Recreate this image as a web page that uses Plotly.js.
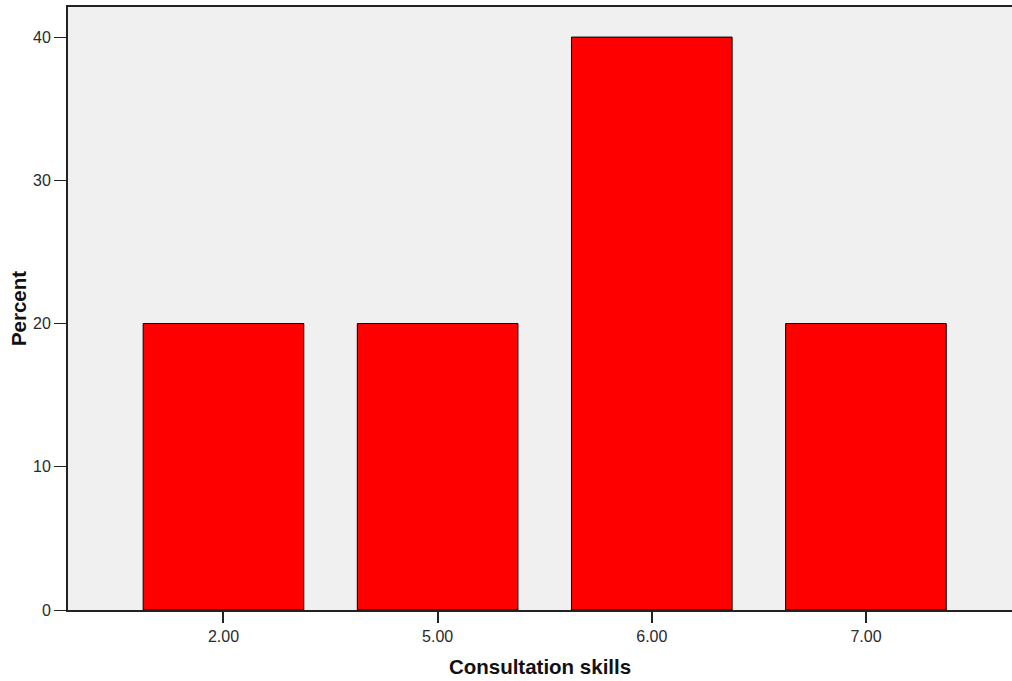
<!DOCTYPE html>
<html>
<head>
<meta charset="utf-8">
<script src="https://cdn.plot.ly/plotly-3.0.1.min.js"></script>
<style>html,body{margin:0;padding:0;background:#fff;}#chart{width:1012px;height:681px;}</style>
</head>
<body>
<div id="chart"></div>
<script>
const categories = ["2.00", "5.00", "6.00", "7.00"];
const percents = [20, 20, 40, 20];
const yTickVals = [0, 10, 20, 30, 40];

const tickFont = {family: "Liberation Sans Narrow, Arial Narrow, Liberation Sans, sans-serif", size: 16, color: "#2a2a2a"};
const titleFont = {family: "Liberation Sans, Arial, sans-serif", size: 20.5, color: "#111", weight: "bold"};

Plotly.newPlot("chart", [{
  type: "bar",
  x: [0, 1, 2, 3],
  y: percents,
  width: 0.75,
  marker: {color: "#ff0000", line: {color: "#000", width: 1}},
  hoverinfo: "skip"
}], {
  width: 1012, height: 681,
  margin: {l: 68, r: 0, t: 7, b: 71},
  paper_bgcolor: "#ffffff",
  plot_bgcolor: "#f0f0f0",
  showlegend: false,
  xaxis: {
    range: [-0.726, 3.682],
    tickvals: [0, 1, 2, 3],
    ticktext: categories,
    showgrid: false, zeroline: false,
    showline: true, linecolor: "#222", linewidth: 2, mirror: true,
    ticks: "outside", ticklen: 11, tickwidth: 2, tickcolor: "#222",
    tickfont: tickFont,
    title: {text: "Consultation skills", font: titleFont, standoff: 15}
  },
  yaxis: {
    range: [0, 42.1],
    tickvals: yTickVals,
    showgrid: false, zeroline: false,
    showline: true, linecolor: "#222", linewidth: 2,
    ticks: "outside", ticklen: 12, tickwidth: 1, tickcolor: "#222",
    tickfont: tickFont,
    title: {text: "Percent", font: titleFont, standoff: 1}
  }
}, {displayModeBar: false, staticPlot: true});
</script>
</body>
</html>
